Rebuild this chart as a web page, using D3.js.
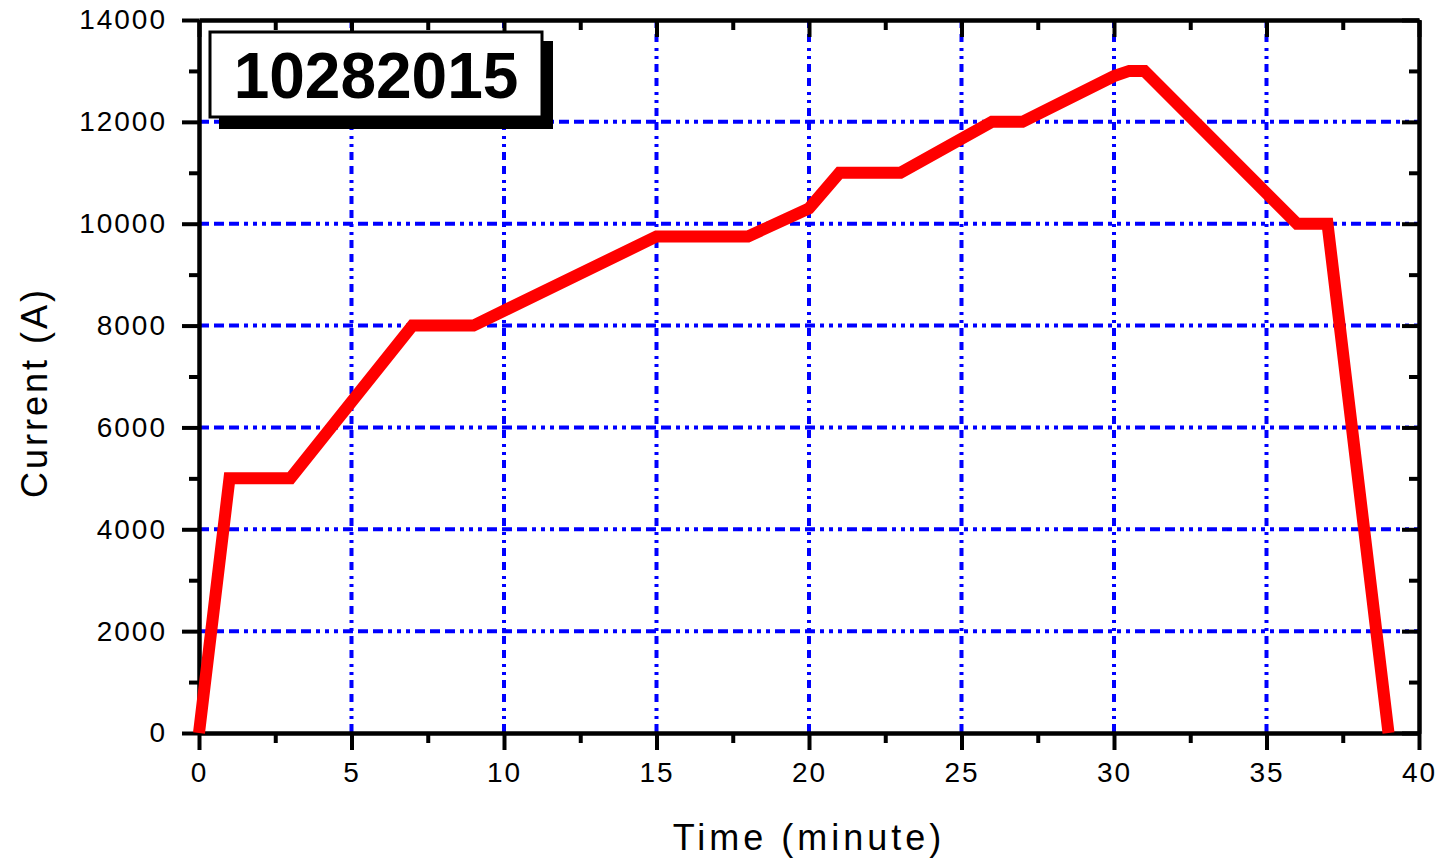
<!DOCTYPE html>
<html>
<head>
<meta charset="utf-8">
<script src="https://cdn.jsdelivr.net/npm/d3@7"></script>
<style>
  body { margin: 0; background: #fff; }
  text { font-family: "Liberation Sans", Arial, sans-serif; }
</style>
</head>
<body>
<div id="screen"></div>
<script>
//time in minutes
var times = [0, 1, 3, 7, 9, 15, 18, 20, 21, 23, 26, 27, 30, 30.5, 31, 36, 37, 39];
//current in amps
var currents = [0, 5000, 5000, 8000, 8000, 9750, 9750, 10300, 11000, 11000, 12000, 12000, 12900, 13000, 13000, 10000, 10000, 0];

var xTicks = [0, 5, 10, 15, 20, 25, 30, 35, 40];
var yTicks = [0, 2000, 4000, 6000, 8000, 10000, 12000, 14000];
var xMinor = [2.5, 7.5, 12.5, 17.5, 22.5, 27.5, 32.5, 37.5];
var yMinor = [1000, 3000, 5000, 7000, 9000, 11000, 13000];

var runLabel = "10282015";

var WIDTH = 1441;
var HEIGHT = 858;
var margin = {top: 20, right: 22, bottom: 125, left: 199};
var w = WIDTH - margin.left - margin.right;
var h = HEIGHT - margin.top - margin.bottom;

function render() {
  var svg = d3.select("#screen")
    .append("svg")
    .attr("width", WIDTH)
    .attr("height", HEIGHT);

  svg.append("rect").attr("width", WIDTH).attr("height", HEIGHT).attr("fill", "#fff");

  var g = svg.append("g").attr("transform", "translate(" + margin.left + "," + margin.top + ")");

  var x = d3.scaleLinear().domain([0, 40]).range([0, w]);
  var y = d3.scaleLinear().domain([0, 14000]).range([h, 0]);

  //grid lines
  g.selectAll(".vgrid")
    .data(xTicks.slice(1, -1))
    .enter()
    .append("line")
    .attr("x1", d => x(d)).attr("x2", d => x(d))
    .attr("y1", 0).attr("y2", h)
    .attr("stroke", "#0000ff")
    .attr("stroke-width", 4)
    .attr("stroke-dasharray", "8,6,8,6,3,5,3,5");

  g.selectAll(".hgrid")
    .data(yTicks.slice(1, -1))
    .enter()
    .append("line")
    .attr("x1", 0).attr("x2", w)
    .attr("y1", d => y(d)).attr("y2", d => y(d))
    .attr("stroke", "#0000ff")
    .attr("stroke-width", 4)
    .attr("stroke-dasharray", "10,5,10,5,10,5,4,5,4,5,4,5");

  //axes
  function styleAxis(sel) {
    sel.select(".domain").attr("stroke", "#000").attr("stroke-width", 4);
    sel.selectAll(".tick line").attr("stroke", "#000").attr("stroke-width", 4);
    sel.selectAll("text")
      .attr("fill", "#000")
      .style("font-size", "28px")
      .style("letter-spacing", "2px");
  }

  var bottomAx = g.append("g").attr("transform", "translate(0," + h + ")")
    .call(d3.axisBottom(x).tickValues(xTicks).tickSize(17).tickSizeOuter(0).tickPadding(8).tickFormat(d3.format("d")));
  styleAxis(bottomAx);
  bottomAx.selectAll(".tick text").attr("dy", "0.85em");

  var bottomMinor = g.append("g").attr("transform", "translate(0," + h + ")")
    .call(d3.axisBottom(x).tickValues(xMinor).tickSize(10).tickSizeOuter(0).tickFormat(""));
  styleAxis(bottomMinor);

  var leftAx = g.append("g")
    .call(d3.axisLeft(y).tickValues(yTicks).tickSize(17).tickSizeOuter(0).tickPadding(15).tickFormat(d3.format("d")));
  styleAxis(leftAx);

  var leftMinor = g.append("g")
    .call(d3.axisLeft(y).tickValues(yMinor).tickSize(10).tickSizeOuter(0).tickFormat(""));
  styleAxis(leftMinor);

  var topAx = g.append("g")
    .call(d3.axisTop(x).tickValues(xTicks).tickSize(-17).tickSizeOuter(0).tickFormat(""));
  styleAxis(topAx);
  var topMinor = g.append("g")
    .call(d3.axisTop(x).tickValues(xMinor).tickSize(-10).tickSizeOuter(0).tickFormat(""));
  styleAxis(topMinor);

  var rightAx = g.append("g").attr("transform", "translate(" + w + ",0)")
    .call(d3.axisRight(y).tickValues(yTicks).tickSize(-17).tickSizeOuter(0).tickFormat(""));
  styleAxis(rightAx);
  var rightMinor = g.append("g").attr("transform", "translate(" + w + ",0)")
    .call(d3.axisRight(y).tickValues(yMinor).tickSize(-10).tickSizeOuter(0).tickFormat(""));
  styleAxis(rightMinor);

  //data line
  var pts = times.map((t, i) => [t, currents[i]]);
  var line = d3.line().x(d => x(d[0])).y(d => y(d[1]));
  g.append("path")
    .datum(pts)
    .attr("d", line)
    .attr("fill", "none")
    .attr("stroke", "#ff0000")
    .attr("stroke-width", 12)
    .attr("stroke-linejoin", "miter")
    .attr("stroke-miterlimit", 3);

  //axis titles
  svg.append("text")
    .attr("x", margin.left + w / 2)
    .attr("y", 850)
    .attr("text-anchor", "middle")
    .style("font-size", "36px")
    .style("letter-spacing", "4px")
    .text("Time (minute)");

  svg.append("text")
    .attr("transform", "translate(47," + (margin.top + h / 2 + 16) + ") rotate(-90)")
    .attr("text-anchor", "middle")
    .style("font-size", "36px")
    .style("letter-spacing", "3px")
    .text("Current (A)");

  //label box with shadow
  svg.append("rect")
    .attr("x", 219).attr("y", 41)
    .attr("width", 334).attr("height", 88)
    .attr("fill", "#000");
  svg.append("rect")
    .attr("x", 210).attr("y", 32)
    .attr("width", 332).attr("height", 85)
    .attr("fill", "#fff")
    .attr("stroke", "#000")
    .attr("stroke-width", 3);
  svg.append("text")
    .attr("x", 376).attr("y", 98)
    .attr("text-anchor", "middle")
    .style("font-size", "64px")
    .style("font-weight", "bold")
    .text(runLabel);
}

render();
</script>
</body>
</html>
